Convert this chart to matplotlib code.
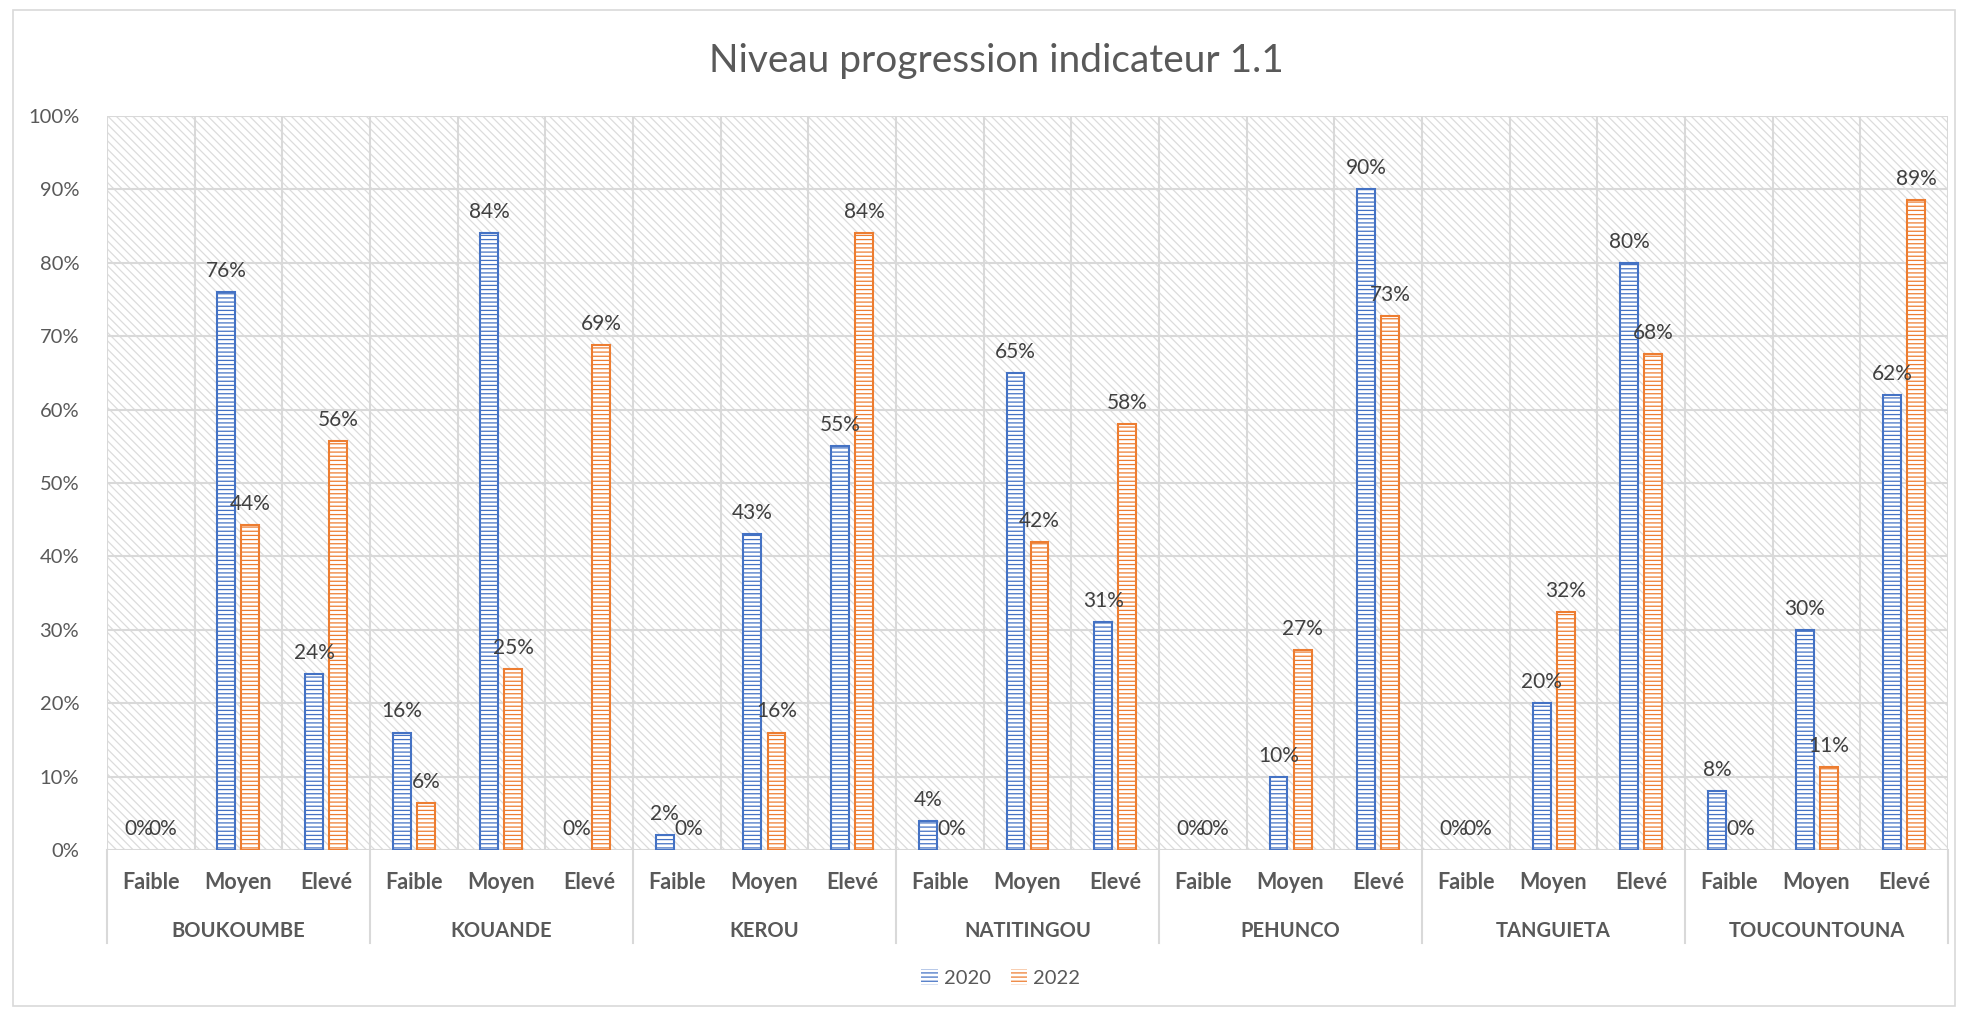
import matplotlib.pyplot as plt
import matplotlib.patches as mpatches
import numpy as np

plt.rcParams['font.family'] = ['Lato', 'DejaVu Sans']
plt.rcParams['hatch.linewidth'] = 0.9

# donnees
communes = ['BOUKOUMBE', 'KOUANDE', 'KEROU', 'NATITINGOU', 'PEHUNCO', 'TANGUIETA', 'TOUCOUNTOUNA']
niveaux = ['Faible', 'Moyen', 'Elevé']
v2020 = [0, 76, 24,
         16, 84, 0,
         2, 43, 55,
         4, 65, 31,
         0, 10, 90,
         0, 20, 80,
         8, 30, 62]
v2022 = [0, 44.3, 55.7,
         6.4, 24.7, 68.8,
         0, 16, 84,
         0, 42, 58,
         0, 27.2, 72.8,
         0, 32.4, 67.6,
         0, 11.3, 88.6]

gris = '#595959'
bleu = '#4472C4'
orange = '#ED7D31'

fig = plt.figure(figsize=(19.62, 10.10), dpi=100)
ax = fig.add_axes([0.0545, 0.1584, 0.9384, 0.7267])

# fond hachure
fond = mpatches.Rectangle((0, 0), 1, 1, transform=ax.transAxes, facecolor='white',
                          edgecolor='#dcdcdc', hatch='\\\\\\\\', linewidth=0, zorder=0)
ax.add_patch(fond)

x = np.arange(len(v2020))
w = 0.205
b1 = ax.bar(x - 0.137, np.array(v2020) / 100, w, facecolor='white', edgecolor=bleu,
            hatch='----', linewidth=1.5, label='2020', zorder=3)
b2 = ax.bar(x + 0.137, np.array(v2022) / 100, w, facecolor='white', edgecolor=orange,
            hatch='----', linewidth=1.5, label='2022', zorder=3)
for p in list(b1) + list(b2):
    if p.get_height() == 0:
        p.set_linewidth(0)
ax.bar_label(b1, labels=['%d%%' % round(v) for v in v2020], padding=8, fontsize=15, color='#404040')
ax.bar_label(b2, labels=['%d%%' % round(v) for v in v2022], padding=8, fontsize=15, color='#404040')

ax.set_xlim(-0.5, len(x) - 0.5)
ax.set_ylim(0, 1)
ax.set_yticks(np.arange(0, 1.01, 0.1))
ax.set_yticklabels(['%d%%' % (t * 10) for t in range(11)], fontsize=14.5, color=gris)
ax.set_xticks(x)
ax.set_xticklabels(niveaux * len(communes), fontsize=15.5, fontweight='bold', color=gris)
ax.tick_params(length=0)
ax.tick_params(axis='x', pad=16)
ax.tick_params(axis='y', pad=20)
for s in ax.spines.values():
    s.set_visible(False)

for y in np.arange(0, 1.01, 0.1):
    ax.axhline(y, color='#d9d9d9', linewidth=1.5, zorder=1)
for xb in np.arange(-0.5, len(x), 1):
    ax.axvline(xb, color='#d9d9d9', linewidth=1.5, zorder=1)

# communes sous l'axe
trans = ax.get_xaxis_transform()
for i, c in enumerate(communes):
    ax.text(i * 3 + 1, -0.11, c, transform=trans, ha='center', va='center',
            fontsize=14.5, fontweight='bold', color=gris)
for i in range(len(communes) + 1):
    ax.plot([i * 3 - 0.5, i * 3 - 0.5], [0, -0.127], transform=trans, color='#d9d9d9',
            linewidth=1.5, clip_on=False)

fig.text(0.508, 0.94, 'Niveau progression indicateur 1.1', ha='center', va='center',
         fontsize=28, color=gris)

fig.legend(handles=[b1, b2], loc='center', bbox_to_anchor=(0.51, 0.032), ncol=2,
           frameon=False, fontsize=14.5, labelcolor=gris, handlelength=0.8, handleheight=0.9,
           handletextpad=0.3, columnspacing=1.0)

fig.add_artist(mpatches.Rectangle((13 / 1962, 0.004), 1 - 20 / 1962, 1 - 10 / 1010 - 0.004,
                                  transform=fig.transFigure, fill=False, edgecolor='#d9d9d9',
                                  linewidth=1.2))

fig.savefig('out.png', dpi=100)
